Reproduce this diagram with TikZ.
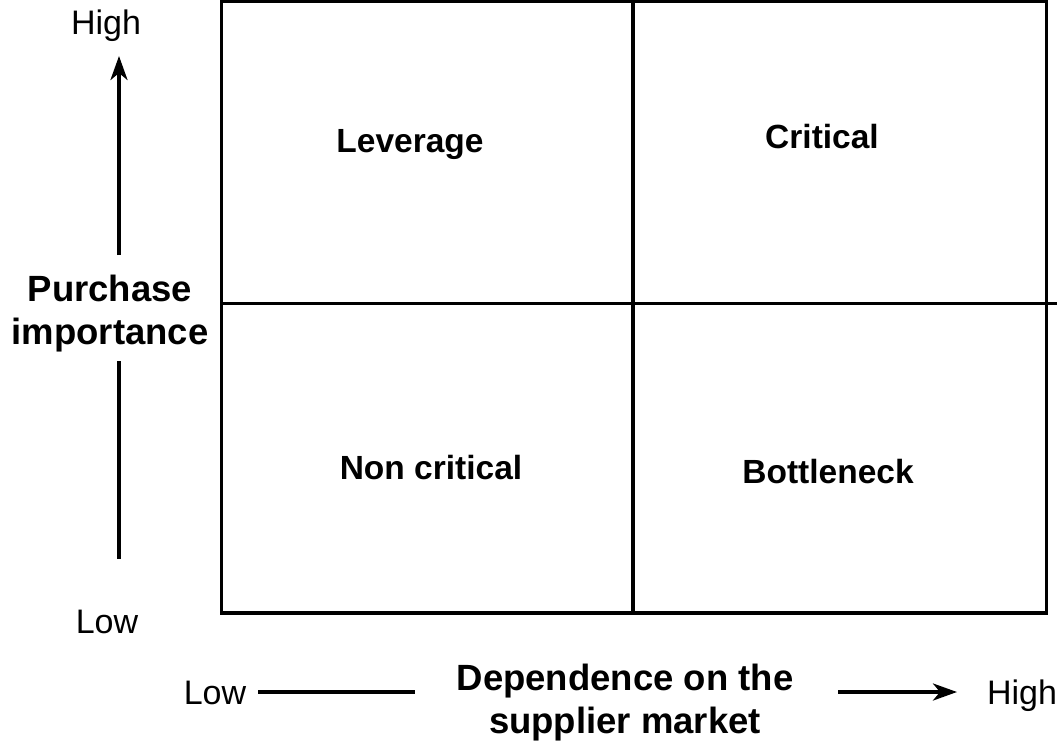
\documentclass[tikz,border=0pt]{standalone}
\usepackage{fontspec}
\setmainfont{Liberation Sans}
\usetikzlibrary{arrows.meta}
\begin{document}
\begin{tikzpicture}[x=1pt,y=-1pt,
  quad/.style={font=\fontsize{33.5}{38}\selectfont\bfseries, inner sep=0pt, anchor=base},
  axlab/.style={font=\fontsize{36.5}{43}\selectfont\bfseries, inner sep=0pt, align=center, anchor=base},
  tick/.style={font=\fontsize{34}{40}\selectfont, inner sep=0pt, anchor=base},
  gridline/.style={line width=3.1pt},
  axline/.style={line width=3.7pt},
  arr/.style={axline, -{Stealth[length=24pt,width=17pt,inset=7pt]}}]
\useasboundingbox (0,0) rectangle (1062,742);
% box
\coordinate (tl) at (221.5,1.5);
\coordinate (br) at (1046.5,613);
\draw[gridline] (tl) rectangle (br);
\coordinate (vt) at (633,1.5);
\coordinate (vb) at (633,613);
\coordinate (hl) at (221.5,303.5);
\coordinate (hr) at (1057,303.5);
\draw[gridline] (vt) -- (vb);
\draw[gridline] (hl) -- (hr);
% quadrant labels
\node[quad] (lev) at (410,152) {Leverage};
\node[quad] (cri) at (822,148) {Critical};
\node[quad] (non) at (431,479) {Non critical};
\node[quad] (bot) at (828,483) {Bottleneck};
% vertical axis
\node[tick] (vhigh) at (106,34) {High};
\node[tick] (vlow) at (107,633) {Low};
\node[axlab] (pi) at (110,344) {Purchase\\importance};
\coordinate (vup0) at (119,255);
\coordinate (vup1) at (119,56);
\coordinate (vdn0) at (119,361);
\coordinate (vdn1) at (119,559);
\draw[arr] (vup0) -- (vup1);
\draw[axline] (vdn0) -- (vdn1);
% horizontal axis
\node[tick] (hlow) at (215,704) {Low};
\node[tick] (hhigh) at (1022,704) {High};
\node[axlab] (dep) at (625,733) {Dependence on the\\supplier market};
\coordinate (hl0) at (258,692);
\coordinate (hl1) at (415,692);
\coordinate (hr0) at (838,692);
\coordinate (hr1) at (957,692);
\draw[axline] (hl0) -- (hl1);
\draw[arr] (hr0) -- (hr1);
\end{tikzpicture}
\end{document}
